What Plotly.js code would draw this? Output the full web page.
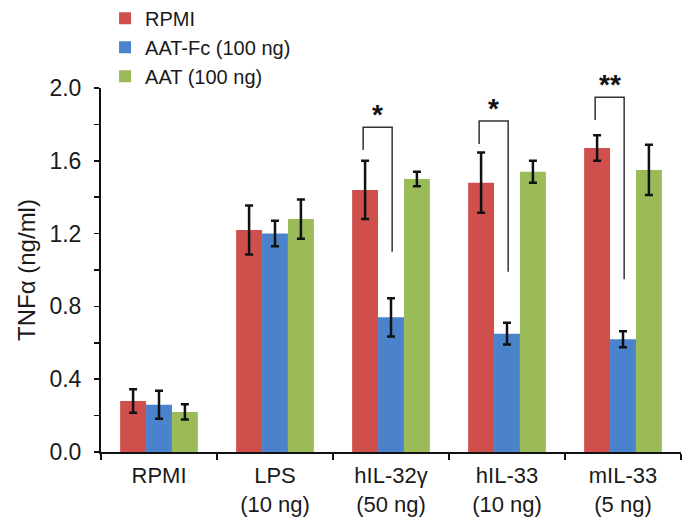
<!DOCTYPE html>
<html>
<head>
<meta charset="utf-8">
<script src="https://cdn.plot.ly/plotly-3.0.1.min.js"></script>
<style>
  html, body { margin: 0; padding: 0; background: #fff; }
  #chart { width: 691px; height: 526px; }
</style>
</head>
<body>
<div id="chart"></div>
<script>
// ---- data ----
const categories = ["RPMI", "LPS<br>(10 ng)", "hIL-32γ<br>(50 ng)", "hIL-33<br>(10 ng)", "mIL-33<br>(5 ng)"];
const seriesNames = ["RPMI", "AAT-Fc (100 ng)", "AAT (100 ng)"];
const rpmiValues  = [0.28, 1.22, 1.44, 1.48, 1.67];
const rpmiErrors  = [0.065, 0.135, 0.16, 0.165, 0.07];
const aatFcValues = [0.26, 1.20, 0.74, 0.65, 0.62];
const aatFcErrors = [0.077, 0.07, 0.105, 0.06, 0.044];
const aatValues   = [0.22, 1.28, 1.50, 1.54, 1.55];
const aatErrors   = [0.042, 0.108, 0.04, 0.06, 0.138];
const yTickValues = [0, 0.2, 0.4, 0.6, 0.8, 1.0, 1.2, 1.4, 1.6, 1.8, 2.0];
const yTickLabels = ["0.0", "", "0.4", "", "0.8", "", "1.2", "", "1.6", "", "2.0"];
// significance brackets (category index, left leg bottom, bracket top, right leg bottom, label)
const sigCategory = [2, 3, 4];
const sigLeftLow  = [1.659, 1.692, 1.824];
const sigTop      = [1.784, 1.819, 1.949];
const sigRightLow = [1.10, 0.991, 0.949];
const sigLabels   = ["*", "*", "**"];

const yRange = [0, 2.0];
const colors = ["#CF4F4C", "#4A82CB", "#9BBB59"];
const values = [rpmiValues, aatFcValues, aatValues];
const errors = [rpmiErrors, aatFcErrors, aatErrors];

const traces = seriesNames.map((name, i) => ({
  type: "bar",
  name: name,
  x: categories,
  y: values[i],
  marker: { color: colors[i], line: { width: 0 } },
  error_y: { type: "data", array: errors[i], visible: true, color: "#111", thickness: 2.5, width: 4 },
  hoverinfo: "x+y+name"
}));

const shapes = [];
const annotations = [];
sigCategory.forEach((c, k) => {
  const xl = c - 0.24, xr = c + 0.01;
  shapes.push({
    type: "path", xref: "x", yref: "y",
    path: `M ${xl} ${sigLeftLow[k]} L ${xl} ${sigTop[k]} L ${xr} ${sigTop[k]} L ${xr} ${sigRightLow[k]}`,
    line: { color: "#333", width: 1.5 }
  });
  // star label sits just above the bracket; placed in the y-domain frame so it may rise above the axis top
  annotations.push({
    xref: "x", yref: "y domain", x: c - 0.115,
    y: (sigTop[k] + 0.07 - yRange[0]) / (yRange[1] - yRange[0]),
    text: "<b>" + sigLabels[k] + "</b>", showarrow: false,
    font: { family: "Liberation Sans, Arial, sans-serif", size: 28, color: "#111" },
    yanchor: "middle"
  });
});

const layout = {
  width: 691, height: 526,
  margin: { l: 101, r: 10, t: 88, b: 74, autoexpand: false },
  paper_bgcolor: "#fff", plot_bgcolor: "#fff",
  font: { family: "Liberation Sans, Arial, sans-serif", color: "#1a1a1a", size: 21 },
  barmode: "group", bargap: 0.33, bargroupgap: 0,
  showlegend: true,
  legend: {
    x: 0.007, y: 1.245, xanchor: "left", yanchor: "top",
    font: { size: 20, color: "#1a1a1a" },
    traceorder: "normal",
    bgcolor: "rgba(0,0,0,0)"
  },
  xaxis: {
    type: "category", range: [-0.5, 4.5],
    tickson: "boundaries", ticks: "outside", ticklen: 6, tickwidth: 1.5, tickcolor: "#111",
    showline: true, linecolor: "#111", linewidth: 2,
    showgrid: false, zeroline: false,
    ticklabelstandoff: 3,
    tickfont: { size: 22, color: "#1a1a1a" }
  },
  yaxis: {
    range: yRange,
    tickmode: "array", tickvals: yTickValues, ticktext: yTickLabels,
    ticks: "outside", ticklen: 5, tickwidth: 1.5, tickcolor: "#111",
    showline: true, linecolor: "#111", linewidth: 2,
    showgrid: false, zeroline: false,
    ticklabelstandoff: 8,
    tickfont: { size: 23, color: "#1a1a1a" },
    title: { text: "TNFα (ng/ml)", font: { size: 24, color: "#1a1a1a" }, standoff: 7 }
  },
  shapes: shapes,
  annotations: annotations
};

Plotly.newPlot("chart", traces, layout, { displayModeBar: false, staticPlot: true });
</script>
</body>
</html>
